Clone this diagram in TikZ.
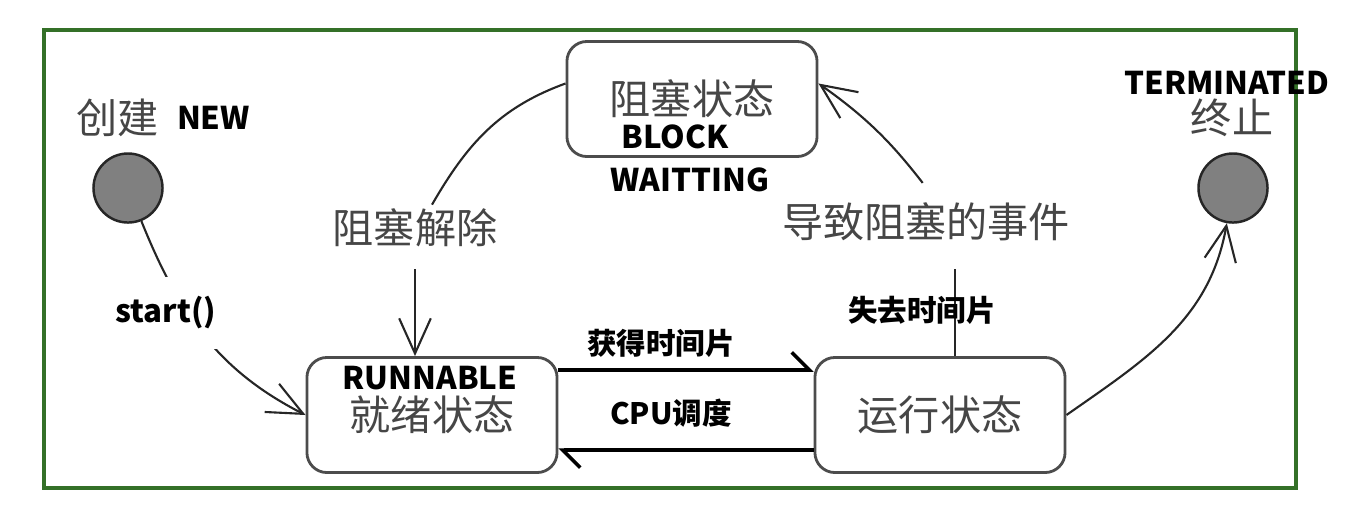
\documentclass[tikz,border=0pt]{standalone}
\usepackage{fontspec}
\setmainfont{Noto Sans CJK SC}
\usetikzlibrary{arrows.meta,positioning}
\definecolor{framegreen}{RGB}{52,112,40}
\definecolor{textgrey}{RGB}{70,70,70}
\tikzset{
  state/.style={draw=black!70, line width=0.8pt, rounded corners=0.2cm, minimum width=2.5cm,
    minimum height=1.15cm, inner sep=0pt, text=textgrey, font=\fontsize{11.7}{14}\selectfont},
  ball/.style={circle, draw=black!85, line width=0.7pt, fill=black!50, minimum size=0.69cm, inner sep=0pt},
  soft/.style={text=textgrey, font=\fontsize{11.7}{14}\selectfont, inner sep=1pt},
  tag/.style={font=\bfseries\fontsize{8.9}{11}\selectfont, inner sep=0pt},
  cn/.style={font=\bfseries\fontsize{8.4}{10}\selectfont, inner sep=0pt},
  arr/.style={draw=black!85, line width=0.6pt, -{Straight Barb[length=10pt,width=9pt]}},
  harp/.style={draw, line width=1pt, -{Straight Barb[left,length=5pt,width=10pt]}},
}
\begin{document}
\begin{tikzpicture}[x=0.01cm, y=-0.01cm]
  \useasboundingbox (0,0) rectangle (1360,523);
  \draw[framegreen, line width=0.9pt] (44,30) rectangle (1296,488);

  \node (0) [ball] at (128,188) {};
  \node (3) [ball] at (1233,188) {};
  \node (1) [state] at (692,99) {阻塞状态};
  \node (2a) [state] at (432,415) {就绪状态};
  \node (2b) [state] at (940,415) {运行状态};

  \node (0t) [soft] at (118,118) {创建};
  \node (0e) [tag, right = 0.13cm, at=(0t.east)] {NEW};
  \node (3t) [soft] at (1232,118) {终止};
  \node (3e) [tag] at (1227,83) {TERMINATED};
  \node (1b) [tag] at (675,137) {BLOCK};
  \node (1w) [tag] at (690,180) {WAITTING};
  \node (2t) [tag] at (430,378) {RUNNABLE};
  \node (l1) [soft] at (415,228) {阻塞解除};
  \node (l2) [soft] at (926,222) {导致阻塞的事件};
  \coordinate (v) at ([xshift=0.15cm]2b.north);

  \draw[arr] (0) to[out=-68, in=153] (2a.west);
  \node (s) [tag, fill=white, inner xsep=2pt, inner ysep=0.2cm] at (166,313) {start()};
  \draw[draw=black!85, line width=0.6pt] (1.173) to[out=200, in=60] ([xshift=0.17cm]l1.north);
  \draw[arr, shorten <=0.18cm] (l1.south) -- (l1.south |- 2a.north);
  \draw[draw=black!85, line width=0.6pt, shorten >=0.24cm] (v) -- (v |- l2.south);
  \draw[arr, shorten <=0.2cm] ([xshift=0.09cm]l2.north) to[out=128, in=-35] (1.7);
  \draw[arr] (2b.east) to[out=35, in=-100] (3);
  \draw[harp] ([yshift=0.45cm]2a.east) -- ([yshift=0.45cm]2b.west);
  \draw[harp] ([yshift=-0.35cm]2b.west) -- ([yshift=-0.35cm]2a.east);

  \node (g) [cn] at (661,343) {获得时间片};
  \node (c) [cn] at (671,413) {CPU调度};
  \node (f) [cn] at (922,310) {失去时间片};
\end{tikzpicture}
\end{document}
